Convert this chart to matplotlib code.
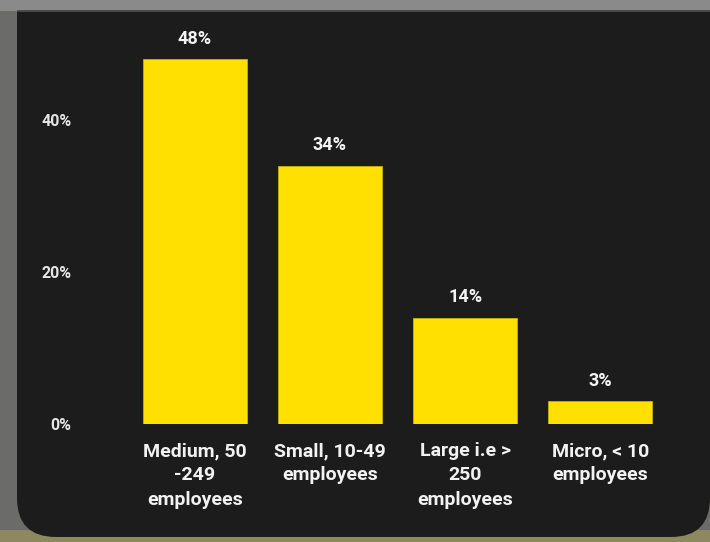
import matplotlib
matplotlib.use("Agg")
import matplotlib.pyplot as plt
from matplotlib.patches import FancyBboxPatch, Rectangle

# company size breakdown
categories = ["Medium, 50\n-249\nemployees", "Small, 10-49\nemployees",
              "Large i.e >\n250\nemployees", "Micro, < 10\nemployees"]
shares = [48, 34, 14, 3]
yticks = [0, 20, 40]
ytick_labels = ["0%", "20%", "40%"]

W, H = 710, 542
PANEL = "#1c1c1c"
YELLOW = "#ffe000"

plt.rcParams['font.family'] = ['Roboto', 'DejaVu Sans']

fig = plt.figure(figsize=(W / 100, H / 100), dpi=100)
fig.patch.set_facecolor("#6b6b69")


def px(x0, y0, w, h):
    # pixel box (top-left origin) -> figure fraction
    return x0 / W, 1 - (y0 + h) / H, w / W, h / H


# backdrop around the dark card
x, y, w, h = px(0, 0, W, 11)
fig.patches.append(Rectangle((x, y), w, h, transform=fig.transFigure,
                             facecolor="#8a8a8a", edgecolor="none", zorder=0))
x, y, w, h = px(0, 530, W, 12)
fig.patches.append(Rectangle((x, y), w, h, transform=fig.transFigure,
                             facecolor="#8c8860", edgecolor="none", zorder=0))

# dark card: rounded bottom corners, square top
x, y, w, h = px(17, 11, 693, 526)
fig.patches.append(FancyBboxPatch((x, y), w, h, transform=fig.transFigure,
                                  boxstyle="round,pad=0,rounding_size=0.055",
                                  mutation_aspect=W / H,
                                  facecolor=PANEL, edgecolor="none", zorder=1))
x, y, w, h = px(17, 11, 693, 480)
fig.patches.append(Rectangle((x, y), w, h, transform=fig.transFigure,
                             facecolor=PANEL, edgecolor="none", zorder=1))
x, y, w, h = px(17, 10, 693, 2)
fig.patches.append(Rectangle((x, y), w, h, transform=fig.transFigure,
                             facecolor="#4a4a4a", edgecolor="none", zorder=2))

ax = fig.add_axes(px(127, 44, 541, 380))
ax.set_facecolor("none")
ax.set_zorder(3)

pos = range(len(shares))
bars = ax.bar(pos, shares, width=0.77, color=YELLOW, edgecolor="#c9b000",
              linewidth=0.6)
for b, v in zip(bars, shares):
    ax.annotate(f"{v}%", (b.get_x() + b.get_width() / 2, v),
                xytext=(0, 8), textcoords="offset points",
                ha="center", va="bottom", color="#f4f4f4",
                fontsize=13, fontweight="bold", annotation_clip=False)

ax.set_xlim(-0.5, 3.5)
ax.set_ylim(0, 50)
ax.set_xticks(list(pos))
ax.set_xticklabels(categories, color="#f2f2f2", fontsize=14,
                   fontweight="bold", linespacing=1.45)
ax.set_yticks(yticks)
ax.set_yticklabels(ytick_labels, color="#e6e6e6", fontsize=11.5,
                   fontweight="bold")
ax.tick_params(axis="x", length=0, pad=13)
ax.tick_params(axis="y", length=0, pad=40)
for s in ax.spines.values():
    s.set_visible(False)

fig.savefig("out.png", dpi=100, facecolor=fig.get_facecolor())
